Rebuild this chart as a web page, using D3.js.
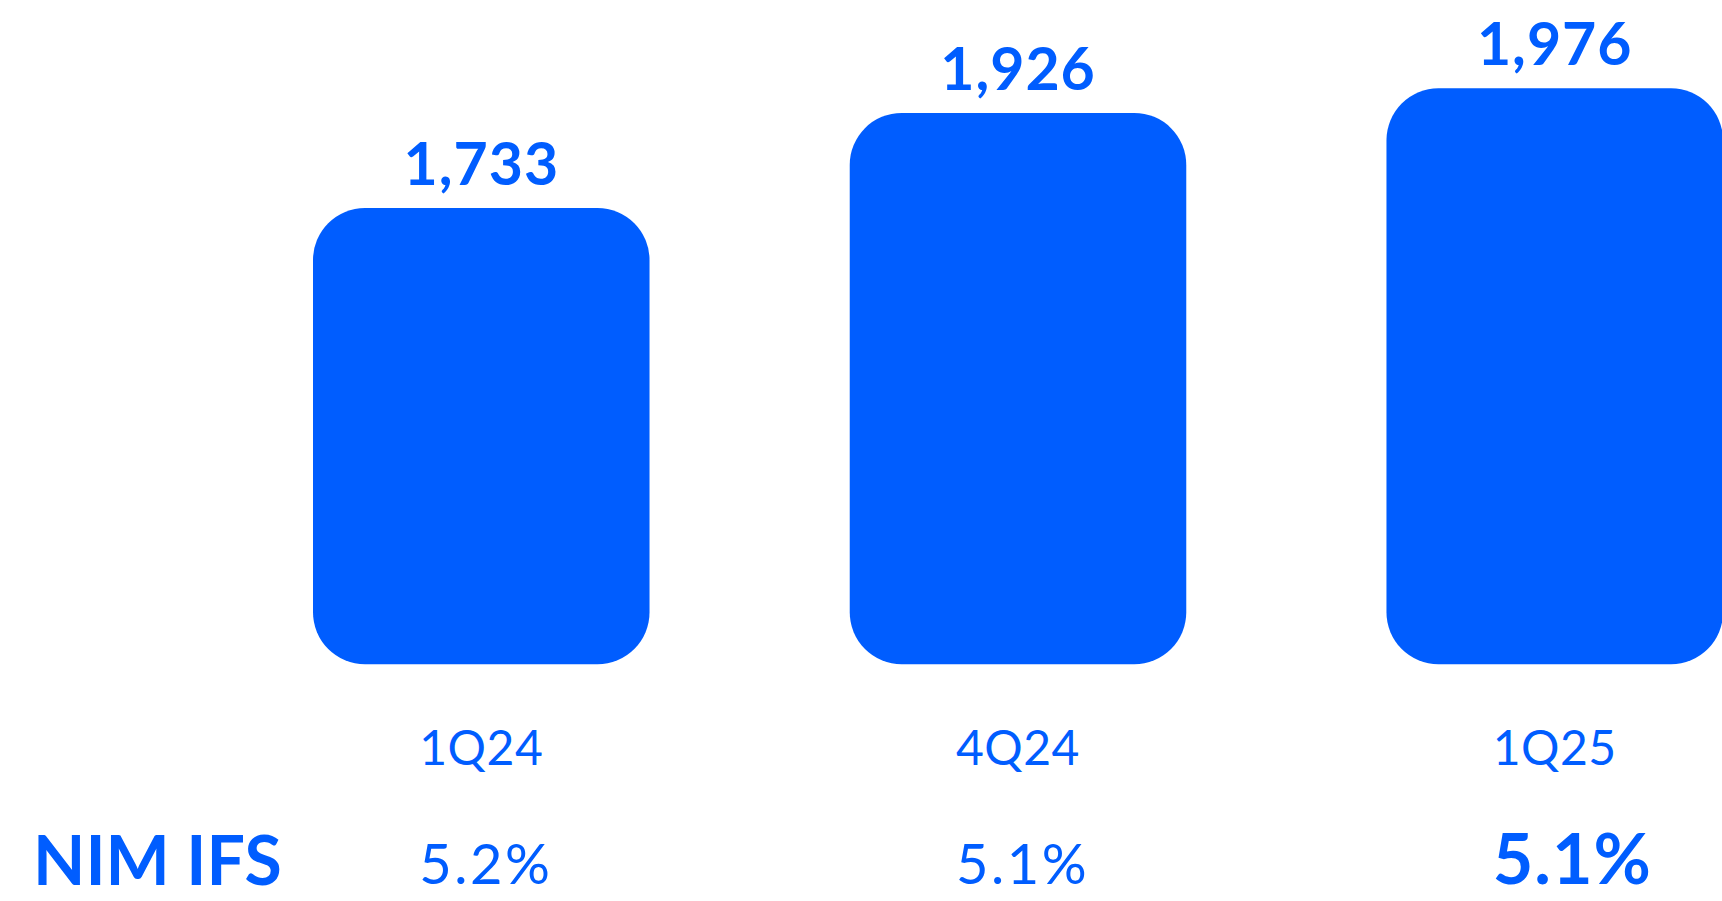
<!DOCTYPE html>
<html>
<head>
<meta charset="utf-8">
<script src="https://cdn.jsdelivr.net/npm/d3@7"></script>
<style>
  html, body { margin: 0; padding: 0; background: #ffffff; }
  svg { display: block; }
  text { font-family: Lato, "Liberation Sans", sans-serif; fill: #005DFF; }
</style>
</head>
<body>
<svg id="chart" width="1722" height="901"></svg>
<script>
// Quarterly figures
const quarters = ["1Q24", "4Q24", "1Q25"];
const values = [1733, 1926, 1976];
const valueLabels = ["1,733", "1,926", "1,976"];
const nimLabels = ["5.2%", "5.1%", "5.1%"];
const nimTitle = "NIM IFS";
const nimHighlight = [false, false, true];

const blue = "#005DFF";
const svg = d3.select("#chart");

const x = d3.scaleBand()
  .domain(quarters)
  .range([313, 1723])
  .paddingInner(0.373)
  .paddingOuter(0)
  .align(0);

// Value axis is truncated: bars rise from a non-zero base
const baseValue = 806;
const y = d3.scaleLinear().domain([baseValue, 1976]).range([664.3, 88.3]);

const rows = quarters.map((q, i) => ({
  q, v: values[i], label: valueLabels[i], nim: nimLabels[i], hi: nimHighlight[i]
}));

// Rounded bars
svg.append("g").selectAll("rect").data(rows).join("rect")
  .attr("x", d => x(d.q))
  .attr("y", d => y(d.v))
  .attr("width", x.bandwidth())
  .attr("height", d => y(baseValue) - y(d.v))
  .attr("rx", 52).attr("ry", 52)
  .attr("fill", blue);

// Value labels above bars
svg.append("g").selectAll("text").data(rows).join("text")
  .attr("x", d => x(d.q) + x.bandwidth() / 2)
  .attr("y", d => y(d.v) - 23)
  .attr("text-anchor", "middle")
  .attr("font-size", 59)
  .attr("font-weight", 700)
  .attr("letter-spacing", 1)
  .text(d => d.label);

// Category labels
const cats = svg.append("g").selectAll("text").data(rows).join("text")
  .attr("x", d => x(d.q) + x.bandwidth() / 2)
  .attr("y", 765)
  .attr("text-anchor", "middle")
  .attr("font-size", 48)
  .attr("font-weight", 400)
  .attr("letter-spacing", 0.5)
  .text(d => d.q);

// NIM row, aligned to the left edge of each category label
const catLeft = [];
cats.each(function (d, i) {
  catLeft[i] = x(d.q) + x.bandwidth() / 2 - this.getComputedTextLength() / 2;
});

svg.append("text")
  .attr("x", 33)
  .attr("y", 885)
  .attr("font-size", 68)
  .attr("font-weight", 700)
  .text(nimTitle);

svg.append("g").selectAll("text").data(rows).join("text")
  .attr("x", (d, i) => catLeft[i])
  .attr("y", 884)
  .attr("font-size", d => d.hi ? 70 : 56)
  .attr("font-weight", d => d.hi ? 700 : 400)
  .attr("letter-spacing", d => d.hi ? 1 : 2.5)
  .text(d => d.nim);
</script>
</body>
</html>
